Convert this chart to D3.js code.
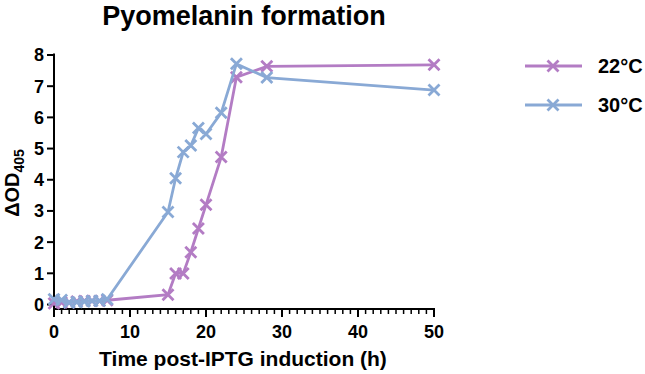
<!DOCTYPE html>
<html>
<head>
<meta charset="utf-8">
<script src="https://cdn.jsdelivr.net/npm/d3@7"></script>
<style>
  body { margin: 0; background: #fff; }
  svg text { font-family: "Liberation Sans", Arial, sans-serif; font-weight: bold; fill: #000; }
</style>
</head>
<body>
<svg id="chart" width="645" height="374"></svg>
<script>
// hours after induction
var hours = [0, 1, 2, 3, 4, 5, 6, 7, 15, 16, 17, 18, 19, 20, 22, 24, 28, 50];

// delta OD405 per temperature
var od22 = [0.02, 0.05, 0.05, 0.08, 0.1, 0.1, 0.1, 0.12, 0.3, 0.98, 0.98, 1.66, 2.42, 3.18, 4.71, 7.27, 7.62, 7.67];
var od30 = [0.15, 0.13, 0.05, 0.06, 0.08, 0.1, 0.1, 0.15, 2.95, 4.03, 4.87, 5.08, 5.64, 5.45, 6.13, 7.7, 7.26, 6.86];

var seriesNames = ["22°C", "30°C"];
var seriesColors = ["#b37cc4", "#89a9d5"];

var xTicks = [0, 10, 20, 30, 40, 50];
var yTicks = [0, 1, 2, 3, 4, 5, 6, 7, 8];

var cfg = { left: 54, right: 434, top: 54.5, bottom: 304, xAxisY: 309 };

var svg = d3.select("#chart");

var x = d3.scaleLinear().domain([0, 50]).range([cfg.left, cfg.right]);
var y = d3.scaleLinear().domain([0, 8]).range([cfg.bottom, cfg.top]);

// title
svg.append("text")
  .attr("x", 244).attr("y", 25)
  .attr("text-anchor", "middle")
  .style("font-size", "27px")
  .text("Pyomelanin formation");

// y axis
var yAxis = svg.append("g")
  .attr("transform", "translate(" + cfg.left + ",0)")
  .call(d3.axisLeft(y).tickValues(yTicks).tickSize(7).tickPadding(3).tickFormat(d3.format("d")));
yAxis.select(".domain").remove();
yAxis.append("line")
  .attr("x1", 0).attr("x2", 0)
  .attr("y1", cfg.top - 1).attr("y2", cfg.xAxisY)
  .attr("stroke", "#000").attr("stroke-width", 2);
yAxis.selectAll(".tick line").attr("stroke-width", 2);
yAxis.selectAll(".tick text").style("font-size", "18px").attr("dy", "0.36em");

// x axis, offset below zero, with minor ticks each hour
var xAxis = svg.append("g")
  .attr("transform", "translate(0," + cfg.xAxisY + ")");
xAxis.append("line")
  .attr("x1", cfg.left - 1).attr("x2", cfg.right + 1)
  .attr("stroke", "#000").attr("stroke-width", 2);
xAxis.selectAll(".minor")
  .data(d3.range(0, 51))
  .enter().append("line")
  .attr("x1", function(d) { return x(d); })
  .attr("x2", function(d) { return x(d); })
  .attr("y1", 0)
  .attr("y2", function(d) { return d % 10 == 0 ? 8 : 5; })
  .attr("stroke", "#000")
  .attr("stroke-width", function(d) { return d % 10 == 0 ? 2 : 1.5; });
xAxis.selectAll(".lbl")
  .data(xTicks)
  .enter().append("text")
  .attr("x", function(d) { return x(d); })
  .attr("y", 29)
  .attr("text-anchor", "middle")
  .style("font-size", "18px")
  .text(function(d) { return d; });

// axis titles
svg.append("text")
  .attr("x", 243).attr("y", 366)
  .attr("text-anchor", "middle")
  .style("font-size", "21px")
  .text("Time post-IPTG induction (h)");

var yl = svg.append("text")
  .attr("transform", "translate(19,183) rotate(-90)")
  .attr("text-anchor", "middle")
  .style("font-size", "20px");
yl.append("tspan").text("ΔOD");
yl.append("tspan").attr("dy", 5).style("font-size", "14px").text("405");

// series
var line = d3.line()
  .x(function(d) { return x(d[0]); })
  .y(function(d) { return y(d[1]); });

function cross(g, cx, cy, color) {
  var s = 5.5;
  g.append("path")
    .attr("d", "M" + (cx - s) + "," + (cy - s) + "L" + (cx + s) + "," + (cy + s) +
               "M" + (cx - s) + "," + (cy + s) + "L" + (cx + s) + "," + (cy - s))
    .attr("stroke", color).attr("stroke-width", 2.8).attr("fill", "none");
}

[od22, od30].forEach(function(vals, i) {
  var pts = hours.map(function(h, j) { return [h, vals[j]]; });
  var g = svg.append("g");
  g.append("path")
    .datum(pts)
    .attr("d", line)
    .attr("fill", "none")
    .attr("stroke", seriesColors[i])
    .attr("stroke-width", 2.8);
  pts.forEach(function(p) { cross(g, x(p[0]), y(p[1]), seriesColors[i]); });
});

// legend
var legendY = [66, 105];
seriesNames.forEach(function(name, i) {
  var g = svg.append("g");
  g.append("line")
    .attr("x1", 525).attr("x2", 582)
    .attr("y1", legendY[i]).attr("y2", legendY[i])
    .attr("stroke", seriesColors[i]).attr("stroke-width", 2.8);
  cross(g, 553, legendY[i], seriesColors[i]);
  g.append("text")
    .attr("x", 598).attr("y", legendY[i])
    .attr("dy", "0.36em")
    .style("font-size", "20px")
    .text(name);
});
</script>
</body>
</html>
